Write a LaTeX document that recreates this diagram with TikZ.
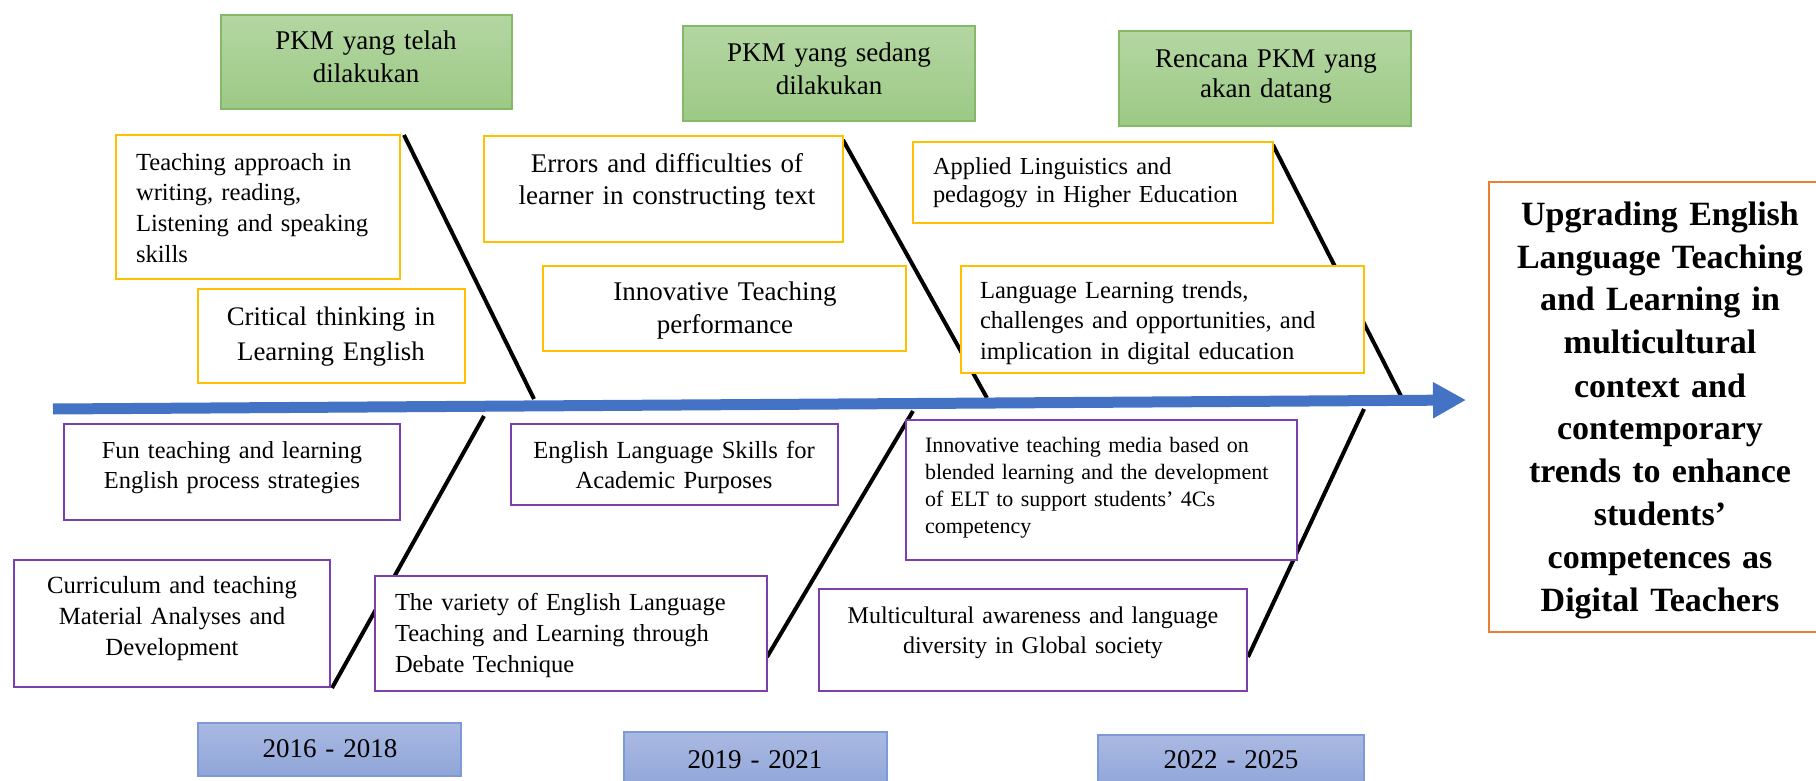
\documentclass[tikz,border=0pt]{standalone}
\usepackage{fontspec}
\setmainfont{Liberation Serif}
\usetikzlibrary{arrows.meta}
\definecolor{ybord}{HTML}{FFC000}
\definecolor{pbord}{HTML}{7B3FB0}
\definecolor{gtop}{HTML}{B4D6A2}
\definecolor{gbot}{HTML}{9CC985}
\definecolor{gbord}{HTML}{84B96A}
\definecolor{btop}{HTML}{AAB9E2}
\definecolor{bbot}{HTML}{8FA5D8}
\definecolor{bbord}{HTML}{7D9AD8}
\definecolor{spinecol}{HTML}{4472C4}
\definecolor{obord}{HTML}{ED7D31}
\newcommand\mkbox[6]{\node[#6, anchor=north west, minimum width={(#4-#2)*0.5pt}, minimum height={(#5-#3)*0.5pt}] (#1) at (#2,#3) {};}
\tikzset{
  basebox/.style={rectangle, inner sep=0, outer sep=0},
  gbox/.style={basebox, draw=gbord, line width=0.6pt, top color=gtop, bottom color=gbot},
  ybox/.style={basebox, draw=ybord, line width=1.2pt, fill=white},
  pbox/.style={basebox, draw=pbord, line width=1.2pt, fill=white},
  yrbox/.style={basebox, draw=bbord, line width=0.6pt, top color=btop, bottom color=bbot},
  obox/.style={basebox, draw=obord, line width=1pt, fill=white},
  ltxt/.style={inner sep=0, outer sep=0, text width=220pt, align=left, anchor=base west},
  ctxt/.style={inner sep=0, outer sep=0, text width=220pt, align=center, anchor=base},
  bone/.style={line width=2pt, black},
  spinearrow/.style={line width=5.5pt, spinecol, -{Triangle[length=16.5pt, width=17pt]}},
  fa/.style={font=\fontsize{12.3}{15.3}\selectfont},
  fb/.style={font=\fontsize{13.5}{16.5}\selectfont},
}
\begin{document}
\begin{tikzpicture}[x=0.5pt, y=-0.5pt]
\useasboundingbox (0,0) rectangle (1816,781);
% bones
\coordinate (b1t) at (404,135); \coordinate (b1b) at (534,399);
\coordinate (b2t) at (843,140); \coordinate (b2b) at (987,398);
\coordinate (b3t) at (1273,145); \coordinate (b3b) at (1401,396);
\coordinate (l1b) at (332,688); \coordinate (l1t) at (484,416);
\coordinate (l2b) at (767,657); \coordinate (l2t) at (913,411);
\coordinate (l3b) at (1248,657); \coordinate (l3t) at (1364,409);
\draw[bone] (b1t) -- (b1b);
\draw[bone] (b2t) -- (b2b);
\draw[bone] (b3t) -- (b3b);
\draw[bone] (l1b) -- (l1t);
\draw[bone] (l2b) -- (l2t);
\draw[bone] (l3b) -- (l3t);
% spine
\coordinate (sp0) at (53,409);
\coordinate (sp1) at (1466,400);
\draw[spinearrow] (sp0) -- (sp1);
% green headers
\mkbox{g1}{221}{15}{512}{109}{gbox}
\mkbox{g2}{683}{26}{975}{121}{gbox}
\mkbox{g3}{1119}{31}{1411}{126}{gbox}
\node[ctxt, fb] (g1t) at (366,50) {PKM yang telah\\dilakukan};
\node[ctxt, fb] (g2t) at (829,62) {PKM yang sedang\\dilakukan};
\node[ctxt, font=\fontsize{13.5}{15}\selectfont] (g3t) at (1266,68) {Rencana PKM yang\\akan datang};
% yellow boxes
\mkbox{y1}{116}{135}{400}{279}{ybox}
\mkbox{y2}{198}{289}{465}{383}{ybox}
\mkbox{y3}{484}{136}{843}{242}{ybox}
\mkbox{y4}{543}{266}{906}{351}{ybox}
\mkbox{y5}{913}{142}{1273}{223}{ybox}
\mkbox{y6}{961}{266}{1364}{373}{ybox}
\node[ltxt, font=\fontsize{12.3}{15.35}\selectfont] (y1t) at (136,170) {Teaching approach in\\writing, reading,\\Listening and speaking\\skills};
\node[ctxt, font=\fontsize{13.4}{17.5}\selectfont] (y2t) at (331,325) {Critical thinking in\\Learning English};
\node[ctxt, fb] (y3t) at (667,172) {Errors and difficulties of\\learner in constructing text};
\node[ctxt, fb] (y4t) at (725,300) {Innovative Teaching\\performance};
\node[ltxt, font=\fontsize{12.2}{14}\selectfont] (y5t) at (933,175) {Applied Linguistics and\\pedagogy in Higher Education};
\node[ltxt, font=\fontsize{12.3}{15.25}\selectfont] (y6t) at (980,298) {Language Learning trends,\\challenges and opportunities, and\\implication in digital education};
% purple boxes
\mkbox{p1}{64}{424}{400}{520}{pbox}
\mkbox{p2}{14}{560}{330}{687}{pbox}
\mkbox{p3}{375}{576}{767}{691}{pbox}
\mkbox{p4}{511}{424}{838}{505}{pbox}
\mkbox{p5}{906}{420}{1297}{560}{pbox}
\mkbox{p6}{819}{589}{1247}{691}{pbox}
\node[ctxt, font=\fontsize{12.2}{15}\selectfont] (p1t) at (232,458) {Fun teaching and learning\\English process strategies};
\node[ctxt, font=\fontsize{12.35}{15.5}\selectfont] (p2t) at (172,593) {Curriculum and teaching\\Material Analyses and\\Development};
\node[ltxt, font=\fontsize{12.25}{15.5}\selectfont] (p3t) at (395,610) {The variety of English Language\\Teaching and Learning through\\Debate Technique};
\node[ctxt, font=\fontsize{12.3}{15}\selectfont] (p4t) at (674,458) {English Language Skills for\\Academic Purposes};
\node[ltxt, font=\fontsize{11}{13.5}\selectfont] (p5t) at (925,452) {Innovative teaching media based on\\blended learning and the development\\of ELT to support students' 4Cs\\competency};
\node[ctxt, font=\fontsize{12}{15}\selectfont] (p6t) at (1033,623) {Multicultural awareness and language\\diversity in Global society};
% year boxes
\mkbox{yr1}{198}{723}{461}{776}{yrbox}
\mkbox{yr2}{624}{732}{887}{790}{yrbox}
\mkbox{yr3}{1098}{735}{1364}{790}{yrbox}
\node[ctxt, fb] (yr1t) at (330,757) {2016 - 2018};
\node[ctxt, fb] (yr2t) at (755,768) {2019 - 2021};
\node[ctxt, fb] (yr3t) at (1231,768) {2022 - 2025};
% outcome box
\mkbox{out}{1489}{182}{1830}{632}{obox}
\node[ctxt, font=\fontsize{17}{21.5}\selectfont\bfseries] (outt) at (1660,225) {Upgrading English\\Language Teaching\\and Learning in\\multicultural\\context and\\contemporary\\trends to enhance\\students'\\competences as\\Digital Teachers};
\end{tikzpicture}
\end{document}
